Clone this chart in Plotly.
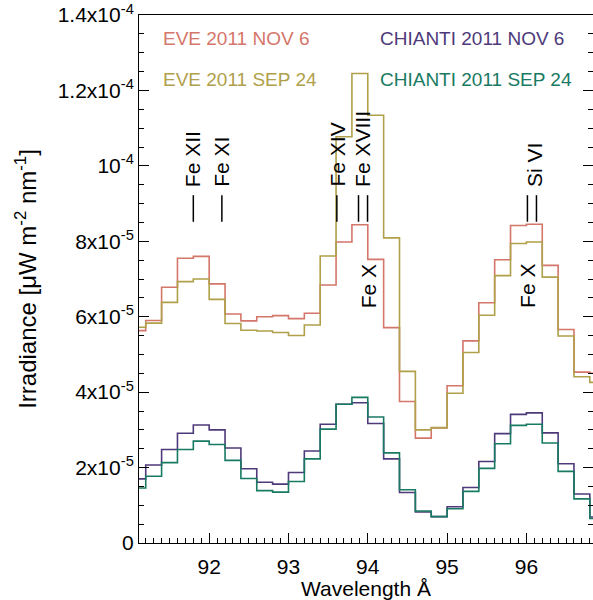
import plotly.graph_objects as go

# Wavelength bin centres (Angstrom)
wavelength = [91.1, 91.3, 91.5, 91.7, 91.9, 92.1, 92.3, 92.5, 92.7, 92.9,
              93.1, 93.3, 93.5, 93.7, 93.9, 94.1, 94.3, 94.5, 94.7, 94.9,
              95.1, 95.3, 95.5, 95.7, 95.9, 96.1, 96.3, 96.5, 96.7, 96.9]

# Irradiance in units of 1e-5 uW m^-2 nm^-1
eve_nov6 = [5.63, 5.90, 6.78, 7.55, 7.60, 6.87, 6.07, 5.89, 6.00, 6.03,
            5.95, 6.09, 6.84, 7.98, 8.44, 7.52, 5.71, 3.75, 2.78, 3.05,
            4.17, 5.36, 6.37, 7.51, 8.42, 8.45, 7.36, 5.66, 4.53, 4.50]
eve_sep24 = [5.72, 5.83, 6.38, 6.93, 7.00, 6.46, 5.82, 5.64, 5.62, 5.58,
             5.50, 5.78, 7.61, 10.77, 12.45, 11.34, 8.09, 4.55, 3.00, 3.06,
             3.97, 5.05, 6.04, 7.09, 7.94, 7.98, 7.05, 5.49, 4.41, 4.26]
chianti_nov6 = [1.70, 2.07, 2.48, 2.91, 3.13, 3.00, 2.52, 1.97, 1.61, 1.56,
                1.87, 2.44, 3.15, 3.68, 3.72, 3.17, 2.23, 1.34, 0.82, 0.70,
                0.96, 1.47, 2.16, 2.90, 3.41, 3.45, 2.92, 2.10, 1.30, 0.69]
chianti_sep24 = [1.46, 1.77, 2.13, 2.48, 2.70, 2.61, 2.19, 1.71, 1.39, 1.35,
                 1.63, 2.23, 3.02, 3.68, 3.86, 3.34, 2.39, 1.41, 0.85, 0.70,
                 0.91, 1.37, 1.98, 2.63, 3.12, 3.15, 2.65, 1.90, 1.17, 0.65]

series_names = ["EVE 2011 NOV 6", "EVE 2011 SEP 24", "CHIANTI 2011 NOV 6", "CHIANTI 2011 SEP 24"]
series_colors = ["#d4766a", "#b0a04a", "#4e3a7a", "#187a62"]

# Y tick values and labels
ytick_vals = [0, 2e-5, 4e-5, 6e-5, 8e-5, 1e-4, 1.2e-4, 1.4e-4]
ytick_text = ["0", "2x10<sup>-5</sup>", "4x10<sup>-5</sup>", "6x10<sup>-5</sup>",
              "8x10<sup>-5</sup>", "10<sup>-4</sup>", "1.2x10<sup>-4</sup>", "1.4x10<sup>-4</sup>"]
xtick_vals = [92, 93, 94, 95, 96]

# Spectral line identifications
ion_labels = ["Fe XII", "Fe XI", "Fe XIV", "Fe XVIII", "Si VI", "Fe X", "Fe X"]
ion_label_wl = [91.80, 92.16, 93.62, 93.94, 96.11, 94.02, 96.02]
ion_label_base = [9.39e-5, 9.39e-5, 9.39e-5, 9.39e-5, 9.39e-5, 6.18e-5, 6.18e-5]
# line tick marks under the labels (double marks drawn as a pair)
marker_wl = [91.80, 92.16, 93.61, 93.883, 93.997, 96.013, 96.127]
marker_level = 8.87e-5

FONT = "Liberation Sans, Arial, Helvetica, sans-serif"

fig = go.Figure()
all_series = [eve_nov6, eve_sep24, chianti_nov6, chianti_sep24]
for name, vals, col in zip(series_names, all_series, series_colors):
    fig.add_trace(go.Scatter(
        x=wavelength, y=[v * 1e-5 for v in vals], mode="lines", name=name,
        line=dict(color=col, width=1.6, shape="hvh"), showlegend=False))

# vertical tick marks identifying spectral lines
fig.add_trace(go.Scatter(
    x=marker_wl, y=[marker_level] * len(marker_wl), mode="markers", showlegend=False,
    hoverinfo="skip",
    marker=dict(symbol="line-ns", size=19, color="black", line=dict(width=1.5, color="black"))))

# helper (invisible) trace for the right-hand tick axis
fig.add_trace(go.Scatter(x=[wavelength[0]], y=[0], yaxis="y2", mode="lines",
                         line=dict(width=0), showlegend=False, hoverinfo="skip"))

W, H = 593, 600
L, R, T, B = 139, 0, 15, 57
pw, ph = W - L - R, H - T - B

def px(xp):
    return (xp - L) / pw

def py(yp):
    return (H - B - yp) / ph

annotations = []
legend_pos = [(161, 39), (161, 79), (378, 39), (378, 79)]
for name, col, (lx, ly) in zip(series_names, series_colors, legend_pos):
    annotations.append(dict(text=name, x=px(lx), y=py(ly), xref="paper", yref="paper",
                            xanchor="left", yanchor="middle", showarrow=False,
                            font=dict(family=FONT, size=19, color=col)))

for lab, wl, yb in zip(ion_labels, ion_label_wl, ion_label_base):
    annotations.append(dict(text=lab, x=wl, y=yb, xref="x", yref="y", textangle=-90,
                            xanchor="center", yanchor="bottom", showarrow=False,
                            font=dict(family=FONT, size=21, color="black")))

fig.update_layout(
    width=W, height=H,
    margin=dict(l=L, r=R, t=T, b=B, pad=0),
    paper_bgcolor="white", plot_bgcolor="white",
    font=dict(family=FONT, size=21, color="black"),
    annotations=annotations,
    xaxis=dict(range=[91.115, 96.84], tickvals=xtick_vals, ticktext=[str(v) for v in xtick_vals],
               ticks="inside", ticklen=10, tickwidth=1, tickcolor="black",
               showline=True, linecolor="black", linewidth=1, mirror=True,
               showgrid=False, zeroline=False, ticklabelstandoff=5,
               minor=dict(dtick=0.1, tick0=91, ticks="inside", ticklen=5, tickcolor="black", showgrid=False),
               title=dict(text="Wavelength Å", font=dict(size=21), standoff=5),
               tickfont=dict(size=21)),
    yaxis=dict(range=[0, 1.4e-4], tickvals=ytick_vals, ticktext=ytick_text,
               ticks="inside", ticklen=10, tickwidth=1, tickcolor="black",
               showline=True, linecolor="black", linewidth=1, mirror=False,
               showgrid=False, zeroline=False,
               minor=dict(dtick=5e-6, tick0=0, ticks="inside", ticklen=5, tickcolor="black", showgrid=False),
               title=dict(text="Irradiance [μW m<sup>-2</sup> nm<sup>-1</sup>]", font=dict(size=24), standoff=14),
               tickfont=dict(size=21)),
    yaxis2=dict(range=[0, 1.4e-4], overlaying="y", side="right", tickvals=ytick_vals,
                ticks="inside", ticklen=10, tickwidth=1, tickcolor="black",
                showticklabels=False, showline=False, showgrid=False, zeroline=False,
                minor=dict(dtick=5e-6, tick0=0, ticks="inside", ticklen=5, tickcolor="black", showgrid=False)),
)

fig.write_html("out.html")
